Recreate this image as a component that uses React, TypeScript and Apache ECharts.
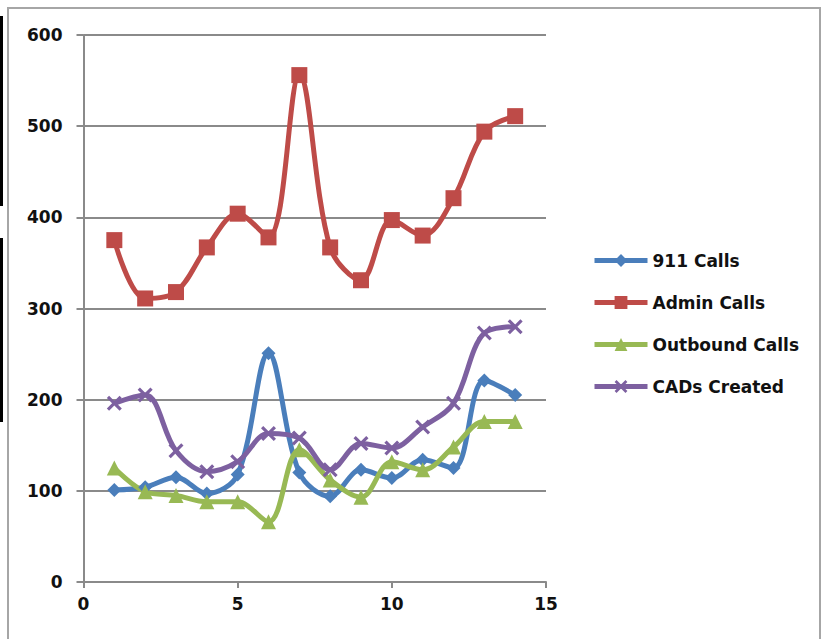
import React, { useEffect, useRef } from "react";
import * as echarts from "echarts";

const xValues = [1, 2, 3, 4, 5, 6, 7, 8, 9, 10, 11, 12, 13, 14];
const calls911 = [101, 104, 115, 97, 118, 251, 120, 94, 123, 114, 134, 125, 221, 205];
const adminCalls = [375, 311, 318, 367, 404, 378, 556, 367, 331, 397, 380, 421, 494, 511];
const outboundCalls = [125, 99, 95, 88, 88, 66, 145, 112, 93, 132, 123, 148, 176, 176];
const cadsCreated = [196, 205, 144, 121, 132, 163, 158, 123, 152, 147, 170, 196, 273, 280];
const seriesNames = ["911 Calls", "Admin Calls", "Outbound Calls", "CADs Created"];
const xTicks = { min: 0, max: 15, interval: 5 };
const yTicks = { min: 0, max: 600, interval: 100 };

const colors = ["#4A7EBB", "#BE4B48", "#98B954", "#7D60A0"];
const crossPath =
  "path://M0,3 L3,0 L10,7 L17,0 L20,3 L13,10 L20,17 L17,20 L10,13 L3,20 L0,17 L7,10 Z";

export default function App() {
  const ref = useRef<HTMLDivElement>(null);
  useEffect(() => {
    if (!ref.current) return;
    const chart = echarts.init(ref.current, undefined, { renderer: "svg" });
    const values = [calls911, adminCalls, outboundCalls, cadsCreated];
    const symbols = ["diamond", "rect", "triangle", crossPath];
    const sizes = [14, 16, 15, 15];
    const font = "DejaVu Sans";
    chart.setOption({
      animation: false,
      backgroundColor: "#ffffff",
      grid: { left: 83.5, right: 275, top: 35, bottom: 57 },
      xAxis: {
        type: "value",
        min: xTicks.min,
        max: xTicks.max,
        interval: xTicks.interval,
        splitLine: { show: false },
        axisLine: { show: true, lineStyle: { color: "#8a8a8a", width: 2 } },
        axisTick: { show: true, length: 6, lineStyle: { color: "#8a8a8a", width: 2 } },
        axisLabel: { color: "#111", fontSize: 17, fontWeight: "bold", fontFamily: font, margin: 13 },
      },
      yAxis: {
        type: "value",
        min: yTicks.min,
        max: yTicks.max,
        interval: yTicks.interval,
        splitLine: { show: true, lineStyle: { color: "#8a8a8a", width: 2 } },
        axisLine: { show: true, lineStyle: { color: "#8a8a8a", width: 2 } },
        axisTick: { show: true, length: 7, lineStyle: { color: "#8a8a8a", width: 2 } },
        axisLabel: { color: "#111", fontSize: 17, fontWeight: "bold", fontFamily: font, margin: 21 },
      },
      legend: {
        orient: "vertical",
        left: 587,
        top: 247,
        itemWidth: 53,
        itemHeight: 16,
        itemGap: 25,
        lineStyle: { width: 5 },
        textStyle: { color: "#111", fontSize: 17, fontWeight: "bold", fontFamily: font },
        data: seriesNames,
      },
      series: seriesNames.map((name, i) => ({
        name,
        type: "line",
        smooth: 0.35,
        data: xValues.map((x, j) => [x, values[i][j]]),
        symbol: symbols[i],
        symbolSize: sizes[i],
        showAllSymbol: true,
        lineStyle: { color: colors[i], width: 5 },
        itemStyle: { color: colors[i] },
      })),
      graphic: [
        { type: "rect", shape: { x: 8, y: 8, width: 812, height: 640 }, style: { fill: "none", stroke: "#a6a6a6", lineWidth: 2 }, silent: true },
        { type: "rect", shape: { x: 0, y: 16, width: 3, height: 190 }, style: { fill: "#000" }, silent: true },
        { type: "rect", shape: { x: 0, y: 238, width: 3, height: 184 }, style: { fill: "#000" }, silent: true },
      ],
    });
    return () => chart.dispose();
  }, []);
  return <div ref={ref} style={{ position: "fixed", left: 0, top: 0, width: 821, height: 639 }} />;
}
